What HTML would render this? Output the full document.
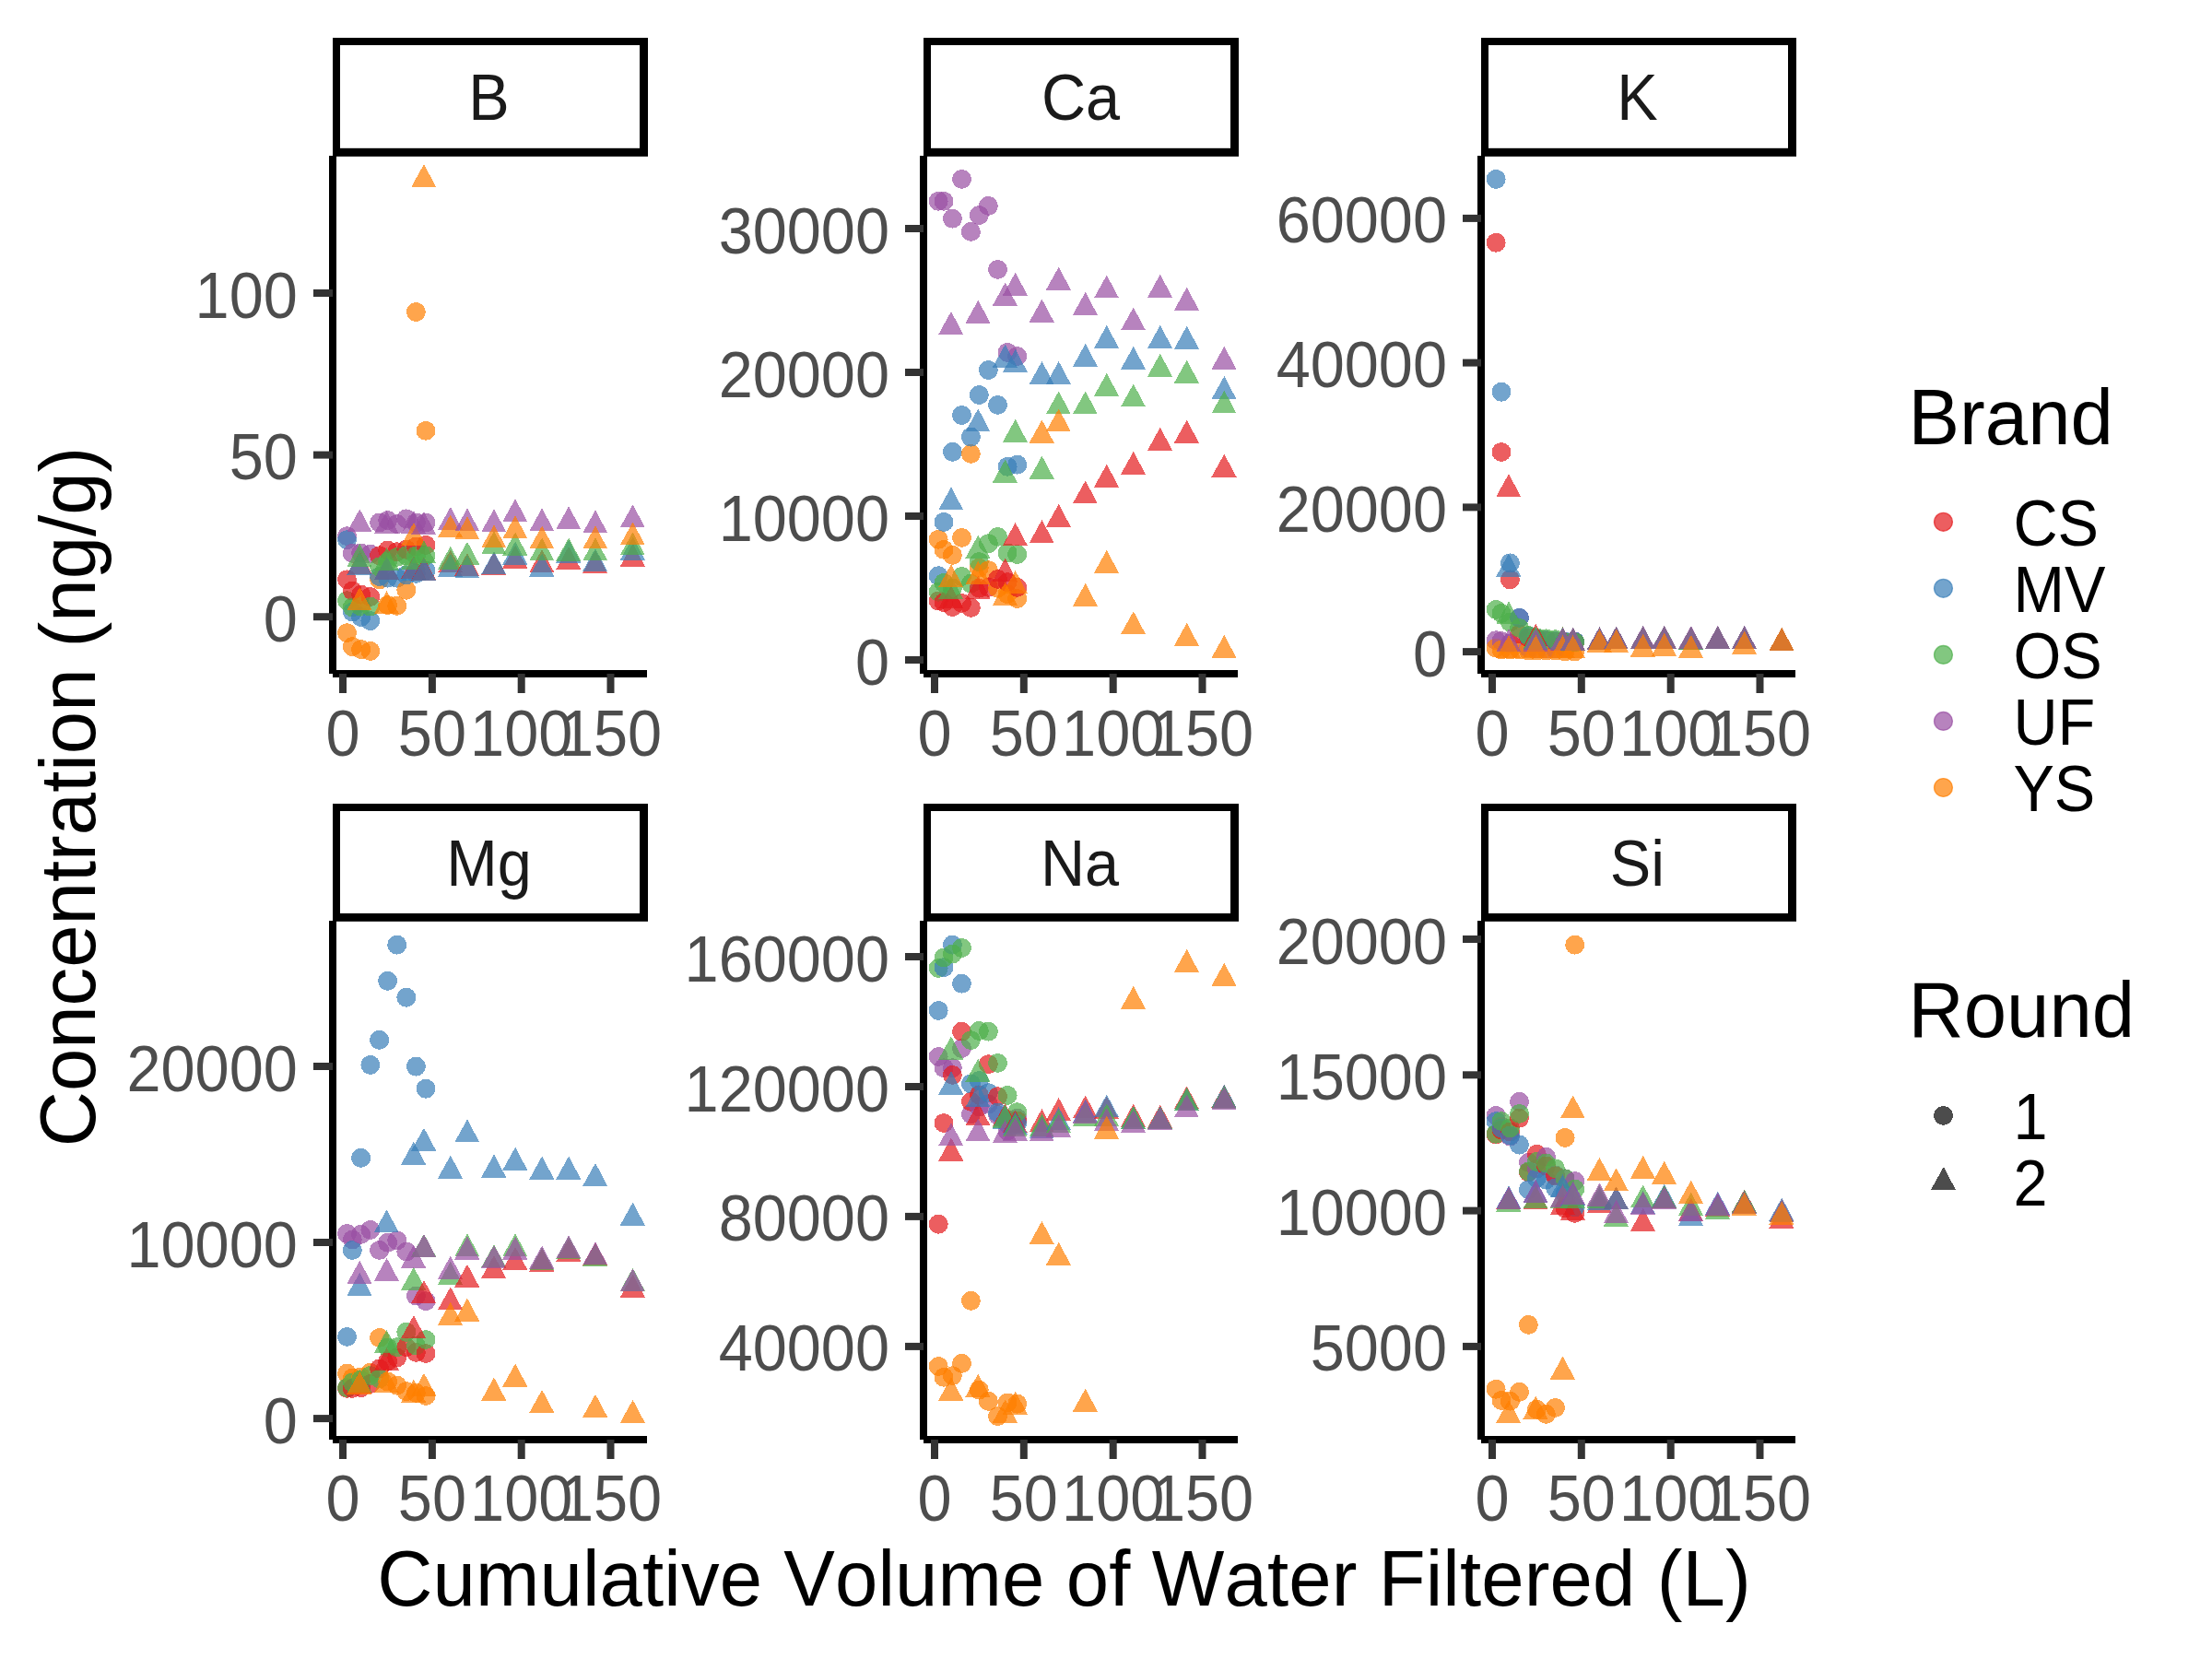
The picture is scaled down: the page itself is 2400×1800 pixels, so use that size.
<!DOCTYPE html><html><head><meta charset="utf-8"><title>Concentration vs cumulative volume</title><style>html,body{margin:0;padding:0;background:#fff}svg{display:block}text{font-family:"Liberation Sans",sans-serif;font-kerning:none}</style></head><body>
<svg width="2400" height="1800" viewBox="0 0 2400 1800">
<rect width="2400" height="1800" fill="#fff"/>
<!-- panel B -->
<g fill-opacity="0.7" shape-rendering="crispEdges">
<circle cx="376.5" cy="581.6" r="10.45" fill="#984EA3"/>
<circle cx="376.5" cy="686.6" r="10.45" fill="#FF7F00"/>
<circle cx="376.5" cy="628.8" r="10.45" fill="#E41A1C"/>
<circle cx="376.5" cy="585.7" r="10.45" fill="#377EB8"/>
<circle cx="376.5" cy="651.6" r="10.45" fill="#4DAF4A"/>
<circle cx="382.3" cy="600.3" r="10.45" fill="#984EA3"/>
<circle cx="382.3" cy="701.6" r="10.45" fill="#FF7F00"/>
<circle cx="382.3" cy="641" r="10.45" fill="#E41A1C"/>
<circle cx="382.3" cy="664" r="10.45" fill="#377EB8"/>
<circle cx="382.3" cy="658.9" r="10.45" fill="#4DAF4A"/>
<circle cx="391.7" cy="600" r="10.45" fill="#984EA3"/>
<circle cx="391.7" cy="704.6" r="10.45" fill="#FF7F00"/>
<circle cx="391.7" cy="645.1" r="10.45" fill="#E41A1C"/>
<circle cx="391.7" cy="669.5" r="10.45" fill="#377EB8"/>
<circle cx="391.7" cy="658.1" r="10.45" fill="#4DAF4A"/>
<circle cx="401.8" cy="601.1" r="10.45" fill="#984EA3"/>
<circle cx="401.8" cy="706.4" r="10.45" fill="#FF7F00"/>
<circle cx="401.8" cy="647.5" r="10.45" fill="#E41A1C"/>
<circle cx="401.8" cy="673.6" r="10.45" fill="#377EB8"/>
<circle cx="401.8" cy="658.1" r="10.45" fill="#4DAF4A"/>
<circle cx="411.7" cy="567" r="10.45" fill="#984EA3"/>
<circle cx="411.7" cy="628.8" r="10.45" fill="#FF7F00"/>
<circle cx="411.7" cy="602.8" r="10.45" fill="#E41A1C"/>
<circle cx="411.7" cy="625.5" r="10.45" fill="#377EB8"/>
<circle cx="411.7" cy="615" r="10.45" fill="#4DAF4A"/>
<circle cx="420.6" cy="564.5" r="10.45" fill="#984EA3"/>
<circle cx="420.6" cy="656.5" r="10.45" fill="#FF7F00"/>
<circle cx="420.6" cy="597.1" r="10.45" fill="#E41A1C"/>
<circle cx="420.6" cy="627.2" r="10.45" fill="#377EB8"/>
<circle cx="420.6" cy="609.3" r="10.45" fill="#4DAF4A"/>
<circle cx="430.7" cy="568.6" r="10.45" fill="#984EA3"/>
<circle cx="430.7" cy="657.3" r="10.45" fill="#FF7F00"/>
<circle cx="430.7" cy="598.7" r="10.45" fill="#E41A1C"/>
<circle cx="430.7" cy="627.2" r="10.45" fill="#377EB8"/>
<circle cx="430.7" cy="604.4" r="10.45" fill="#4DAF4A"/>
<circle cx="440.8" cy="562.9" r="10.45" fill="#984EA3"/>
<circle cx="440.8" cy="640.2" r="10.45" fill="#FF7F00"/>
<circle cx="440.8" cy="596.2" r="10.45" fill="#E41A1C"/>
<circle cx="440.8" cy="623.9" r="10.45" fill="#377EB8"/>
<circle cx="440.8" cy="602.8" r="10.45" fill="#4DAF4A"/>
<circle cx="451.4" cy="567" r="10.45" fill="#984EA3"/>
<circle cx="451.4" cy="338.5" r="10.45" fill="#FF7F00"/>
<circle cx="451.4" cy="593" r="10.45" fill="#E41A1C"/>
<circle cx="451.4" cy="622.3" r="10.45" fill="#377EB8"/>
<circle cx="451.4" cy="602.8" r="10.45" fill="#4DAF4A"/>
<circle cx="462" cy="567" r="10.45" fill="#984EA3"/>
<circle cx="462" cy="467.3" r="10.45" fill="#FF7F00"/>
<circle cx="462" cy="591.4" r="10.45" fill="#E41A1C"/>
<circle cx="462" cy="619" r="10.45" fill="#377EB8"/>
<circle cx="462" cy="602.8" r="10.45" fill="#4DAF4A"/>
<path d="M390.3 598.1L403.5 623L376.5 623Z" fill="#E41A1C"/>
<path d="M390.3 598.6L403.5 623.5L376.5 623.5Z" fill="#377EB8"/>
<path d="M390.3 589.8L403.5 614.8L376.5 614.8Z" fill="#4DAF4A"/>
<path d="M390.3 552.3L403.5 577.2L376.5 577.2Z" fill="#984EA3"/>
<path d="M390.3 637.2L403.5 662.1L376.5 662.1Z" fill="#FF7F00"/>
<path d="M419.6 603.8L432.8 628.8L405.8 628.8Z" fill="#E41A1C"/>
<path d="M419.6 603.8L432.8 628.8L405.8 628.8Z" fill="#377EB8"/>
<path d="M419.6 593.8L432.8 618.8L405.8 618.8Z" fill="#4DAF4A"/>
<path d="M419.6 554.2L432.8 579.1L405.8 579.1Z" fill="#984EA3"/>
<path d="M419.6 641L432.8 665.9L405.8 665.9Z" fill="#FF7F00"/>
<path d="M448.9 603.1L462.1 628L435.1 628Z" fill="#E41A1C"/>
<path d="M448.9 604.7L462.1 629.6L435.1 629.6Z" fill="#377EB8"/>
<path d="M448.9 593.1L462.1 618L435.1 618Z" fill="#4DAF4A"/>
<path d="M448.9 554.2L462.1 579.1L435.1 579.1Z" fill="#984EA3"/>
<path d="M448.9 567L462.1 591.9L435.1 591.9Z" fill="#FF7F00"/>
<path d="M460 604.6L473.2 629.5L446.2 629.5Z" fill="#E41A1C"/>
<path d="M460 605.5L473.2 630.4L446.2 630.4Z" fill="#377EB8"/>
<path d="M460 586.5L473.2 611.4L446.2 611.4Z" fill="#4DAF4A"/>
<path d="M460 555L473.2 579.9L446.2 579.9Z" fill="#984EA3"/>
<path d="M460 178.1L473.2 203.1L446.2 203.1Z" fill="#FF7F00"/>
<path d="M488.8 596.5L502 621.4L475 621.4Z" fill="#E41A1C"/>
<path d="M488.8 601.1L502 626L475 626Z" fill="#377EB8"/>
<path d="M488.8 592.7L502 617.6L475 617.6Z" fill="#4DAF4A"/>
<path d="M488.8 550.1L502 575L475 575Z" fill="#984EA3"/>
<path d="M488.8 558.3L502 583.2L475 583.2Z" fill="#FF7F00"/>
<path d="M507 599.8L520.2 624.8L493.2 624.8Z" fill="#E41A1C"/>
<path d="M507 602.2L520.2 627.1L493.2 627.1Z" fill="#377EB8"/>
<path d="M507 587.7L520.2 612.6L493.2 612.6Z" fill="#4DAF4A"/>
<path d="M507 551.4L520.2 576.3L493.2 576.3Z" fill="#984EA3"/>
<path d="M507 560.4L520.2 585.3L493.2 585.3Z" fill="#FF7F00"/>
<path d="M536 599L549.2 623.9L522.2 623.9Z" fill="#E41A1C"/>
<path d="M536 598.1L549.2 623L522.2 623Z" fill="#377EB8"/>
<path d="M536 576.2L549.2 601.1L522.2 601.1Z" fill="#4DAF4A"/>
<path d="M536 552.3L549.2 577.2L522.2 577.2Z" fill="#984EA3"/>
<path d="M536 569.3L549.2 594.2L522.2 594.2Z" fill="#FF7F00"/>
<path d="M559.1 591.6L572.3 616.5L545.3 616.5Z" fill="#E41A1C"/>
<path d="M559.1 587.6L572.3 612.5L545.3 612.5Z" fill="#377EB8"/>
<path d="M559.1 577.6L572.3 602.5L545.3 602.5Z" fill="#4DAF4A"/>
<path d="M559.1 541.2L572.3 566.1L545.3 566.1Z" fill="#984EA3"/>
<path d="M559.1 559.4L572.3 584.3L545.3 584.3Z" fill="#FF7F00"/>
<path d="M588.1 596L601.3 620.9L574.3 620.9Z" fill="#E41A1C"/>
<path d="M588.1 600.6L601.3 625.5L574.3 625.5Z" fill="#377EB8"/>
<path d="M588.1 583.5L601.3 608.4L574.3 608.4Z" fill="#4DAF4A"/>
<path d="M588.1 551.4L601.3 576.3L574.3 576.3Z" fill="#984EA3"/>
<path d="M588.1 570.5L601.3 595.4L574.3 595.4Z" fill="#FF7F00"/>
<path d="M617.1 592.8L630.3 617.8L603.3 617.8Z" fill="#E41A1C"/>
<path d="M617.1 585.6L630.3 610.5L603.3 610.5Z" fill="#377EB8"/>
<path d="M617.1 583.6L630.3 608.5L603.3 608.5Z" fill="#4DAF4A"/>
<path d="M617.1 549.3L630.3 574.2L603.3 574.2Z" fill="#984EA3"/>
<path d="M646 596.8L659.2 621.8L632.2 621.8Z" fill="#E41A1C"/>
<path d="M646 594.9L659.2 619.8L632.2 619.8Z" fill="#377EB8"/>
<path d="M646 583.5L659.2 608.4L632.2 608.4Z" fill="#4DAF4A"/>
<path d="M646 553.4L659.2 578.3L632.2 578.3Z" fill="#984EA3"/>
<path d="M646 570.5L659.2 595.4L632.2 595.4Z" fill="#FF7F00"/>
<path d="M686.6 589.7L699.8 614.6L672.8 614.6Z" fill="#E41A1C"/>
<path d="M686.6 582.7L699.8 607.6L672.8 607.6Z" fill="#377EB8"/>
<path d="M686.6 577.5L699.8 602.4L672.8 602.4Z" fill="#4DAF4A"/>
<path d="M686.6 547.4L699.8 572.3L672.8 572.3Z" fill="#984EA3"/>
<path d="M686.6 566.4L699.8 591.3L672.8 591.3Z" fill="#FF7F00"/>
</g>
<rect x="361" y="41" width="342" height="128.8" fill="#000"/>
<rect x="369" y="49" width="325" height="111.8" fill="#fff"/>
<text transform="translate(530.5,129.8) scale(1,1.045)" font-size="66.67" fill="#1A1A1A" text-anchor="middle">B</text>
<rect x="357" y="169" width="8" height="562" fill="#000"/>
<rect x="361" y="727" width="341" height="8" fill="#000"/>
<rect x="368" y="731" width="8" height="21" fill="#333"/>
<text transform="translate(372,820) scale(1,1.045)" font-size="66.67" fill="#4D4D4D" text-anchor="middle">0</text>
<rect x="464.9" y="731" width="8" height="21" fill="#333"/>
<text transform="translate(468.9,820) scale(1,1.045)" font-size="66.67" fill="#4D4D4D" text-anchor="middle">50</text>
<rect x="561.7" y="731" width="8" height="21" fill="#333"/>
<text transform="translate(565.7,820) scale(1,1.045)" font-size="66.67" fill="#4D4D4D" text-anchor="middle">100</text>
<rect x="658.5" y="731" width="8" height="21" fill="#333"/>
<text transform="translate(662.5,820) scale(1,1.045)" font-size="66.67" fill="#4D4D4D" text-anchor="middle">150</text>
<rect x="340" y="665.2" width="21" height="8" fill="#333"/>
<text transform="translate(322.8,695.7) scale(1,1.045)" font-size="66.67" fill="#4D4D4D" text-anchor="end">0</text>
<rect x="340" y="489.6" width="21" height="8" fill="#333"/>
<text transform="translate(322.8,520.1) scale(1,1.045)" font-size="66.67" fill="#4D4D4D" text-anchor="end">50</text>
<rect x="340" y="314" width="21" height="8" fill="#333"/>
<text transform="translate(322.8,344.5) scale(1,1.045)" font-size="66.67" fill="#4D4D4D" text-anchor="end">100</text>
<!-- panel Ca -->
<g fill-opacity="0.7" shape-rendering="crispEdges">
<circle cx="1018.2" cy="218.3" r="10.45" fill="#984EA3"/>
<circle cx="1018.2" cy="585.3" r="10.45" fill="#FF7F00"/>
<circle cx="1018.2" cy="652" r="10.45" fill="#E41A1C"/>
<circle cx="1018.2" cy="624.7" r="10.45" fill="#377EB8"/>
<circle cx="1018.2" cy="642.2" r="10.45" fill="#4DAF4A"/>
<circle cx="1024" cy="218.3" r="10.45" fill="#984EA3"/>
<circle cx="1024" cy="596.3" r="10.45" fill="#FF7F00"/>
<circle cx="1024" cy="653.6" r="10.45" fill="#E41A1C"/>
<circle cx="1024" cy="566.4" r="10.45" fill="#377EB8"/>
<circle cx="1024" cy="632.4" r="10.45" fill="#4DAF4A"/>
<circle cx="1033.4" cy="237.2" r="10.45" fill="#984EA3"/>
<circle cx="1033.4" cy="602.3" r="10.45" fill="#FF7F00"/>
<circle cx="1033.4" cy="658.5" r="10.45" fill="#E41A1C"/>
<circle cx="1033.4" cy="490.3" r="10.45" fill="#377EB8"/>
<circle cx="1033.4" cy="638.1" r="10.45" fill="#4DAF4A"/>
<circle cx="1043.5" cy="194.4" r="10.45" fill="#984EA3"/>
<circle cx="1043.5" cy="583.4" r="10.45" fill="#FF7F00"/>
<circle cx="1043.5" cy="654.4" r="10.45" fill="#E41A1C"/>
<circle cx="1043.5" cy="450.5" r="10.45" fill="#377EB8"/>
<circle cx="1043.5" cy="625.5" r="10.45" fill="#4DAF4A"/>
<circle cx="1053.4" cy="251.4" r="10.45" fill="#984EA3"/>
<circle cx="1053.4" cy="492.4" r="10.45" fill="#FF7F00"/>
<circle cx="1053.4" cy="659.3" r="10.45" fill="#E41A1C"/>
<circle cx="1053.4" cy="474.1" r="10.45" fill="#377EB8"/>
<circle cx="1053.4" cy="633.2" r="10.45" fill="#4DAF4A"/>
<circle cx="1062.3" cy="233.5" r="10.45" fill="#984EA3"/>
<circle cx="1062.3" cy="616.1" r="10.45" fill="#FF7F00"/>
<circle cx="1062.3" cy="638.1" r="10.45" fill="#E41A1C"/>
<circle cx="1062.3" cy="428.5" r="10.45" fill="#377EB8"/>
<circle cx="1062.3" cy="609.6" r="10.45" fill="#4DAF4A"/>
<circle cx="1072.4" cy="223.4" r="10.45" fill="#984EA3"/>
<circle cx="1072.4" cy="618.6" r="10.45" fill="#FF7F00"/>
<circle cx="1072.4" cy="637.3" r="10.45" fill="#E41A1C"/>
<circle cx="1072.4" cy="401.5" r="10.45" fill="#377EB8"/>
<circle cx="1072.4" cy="589.7" r="10.45" fill="#4DAF4A"/>
<circle cx="1082.5" cy="292.4" r="10.45" fill="#984EA3"/>
<circle cx="1082.5" cy="638.1" r="10.45" fill="#FF7F00"/>
<circle cx="1082.5" cy="628.4" r="10.45" fill="#E41A1C"/>
<circle cx="1082.5" cy="439.4" r="10.45" fill="#377EB8"/>
<circle cx="1082.5" cy="582.4" r="10.45" fill="#4DAF4A"/>
<circle cx="1093.1" cy="382.4" r="10.45" fill="#984EA3"/>
<circle cx="1093.1" cy="644.6" r="10.45" fill="#FF7F00"/>
<circle cx="1093.1" cy="631.6" r="10.45" fill="#E41A1C"/>
<circle cx="1093.1" cy="506.3" r="10.45" fill="#377EB8"/>
<circle cx="1093.1" cy="599.9" r="10.45" fill="#4DAF4A"/>
<circle cx="1103.7" cy="386.5" r="10.45" fill="#984EA3"/>
<circle cx="1103.7" cy="649.5" r="10.45" fill="#FF7F00"/>
<circle cx="1103.7" cy="637.3" r="10.45" fill="#E41A1C"/>
<circle cx="1103.7" cy="504.2" r="10.45" fill="#377EB8"/>
<circle cx="1103.7" cy="601.5" r="10.45" fill="#4DAF4A"/>
<path d="M1032 635.1L1045.2 660L1018.2 660Z" fill="#E41A1C"/>
<path d="M1032 528.5L1045.2 553.4L1018.2 553.4Z" fill="#377EB8"/>
<path d="M1032 625L1045.2 649.9L1018.2 649.9Z" fill="#4DAF4A"/>
<path d="M1032 337.9L1045.2 362.9L1018.2 362.9Z" fill="#984EA3"/>
<path d="M1032 612.1L1045.2 637L1018.2 637Z" fill="#FF7F00"/>
<path d="M1061.3 624.6L1074.5 649.5L1047.5 649.5Z" fill="#E41A1C"/>
<path d="M1061.3 443.4L1074.5 468.4L1047.5 468.4Z" fill="#377EB8"/>
<path d="M1061.3 580.6L1074.5 605.5L1047.5 605.5Z" fill="#4DAF4A"/>
<path d="M1061.3 325.7L1074.5 350.7L1047.5 350.7Z" fill="#984EA3"/>
<path d="M1061.3 609L1074.5 633.9L1047.5 633.9Z" fill="#FF7F00"/>
<path d="M1090.6 605.7L1103.8 630.6L1076.8 630.6Z" fill="#E41A1C"/>
<path d="M1090.6 373.7L1103.8 398.7L1076.8 398.7Z" fill="#377EB8"/>
<path d="M1090.6 498.7L1103.8 523.6L1076.8 523.6Z" fill="#4DAF4A"/>
<path d="M1090.6 306.7L1103.8 331.7L1076.8 331.7Z" fill="#984EA3"/>
<path d="M1090.6 631.8L1103.8 656.8L1076.8 656.8Z" fill="#FF7F00"/>
<path d="M1101.7 567.1L1114.9 592L1087.9 592Z" fill="#E41A1C"/>
<path d="M1101.7 378.9L1114.9 403.9L1087.9 403.9Z" fill="#377EB8"/>
<path d="M1101.7 454.8L1114.9 479.8L1087.9 479.8Z" fill="#4DAF4A"/>
<path d="M1101.7 295.6L1114.9 320.6L1087.9 320.6Z" fill="#984EA3"/>
<path d="M1101.7 619.1L1114.9 644L1087.9 644Z" fill="#FF7F00"/>
<path d="M1130.5 564.1L1143.7 589L1116.7 589Z" fill="#E41A1C"/>
<path d="M1130.5 392L1143.7 416.9L1116.7 416.9Z" fill="#377EB8"/>
<path d="M1130.5 494.7L1143.7 519.6L1116.7 519.6Z" fill="#4DAF4A"/>
<path d="M1130.5 324.6L1143.7 349.6L1116.7 349.6Z" fill="#984EA3"/>
<path d="M1130.5 455.6L1143.7 480.6L1116.7 480.6Z" fill="#FF7F00"/>
<path d="M1148.7 546.8L1161.9 571.8L1134.9 571.8Z" fill="#E41A1C"/>
<path d="M1148.7 392L1161.9 416.9L1134.9 416.9Z" fill="#377EB8"/>
<path d="M1148.7 424.4L1161.9 449.4L1134.9 449.4Z" fill="#4DAF4A"/>
<path d="M1148.7 289.6L1161.9 314.6L1134.9 314.6Z" fill="#984EA3"/>
<path d="M1148.7 443.4L1161.9 468.4L1134.9 468.4Z" fill="#FF7F00"/>
<path d="M1177.7 521.5L1190.9 546.4L1163.9 546.4Z" fill="#E41A1C"/>
<path d="M1177.7 372.9L1190.9 397.9L1163.9 397.9Z" fill="#377EB8"/>
<path d="M1177.7 424.4L1190.9 449.4L1163.9 449.4Z" fill="#4DAF4A"/>
<path d="M1177.7 316.8L1190.9 341.8L1163.9 341.8Z" fill="#984EA3"/>
<path d="M1177.7 632.9L1190.9 657.8L1163.9 657.8Z" fill="#FF7F00"/>
<path d="M1200.8 503.6L1214 528.5L1187 528.5Z" fill="#E41A1C"/>
<path d="M1200.8 352.9L1214 377.9L1187 377.9Z" fill="#377EB8"/>
<path d="M1200.8 404.8L1214 429.8L1187 429.8Z" fill="#4DAF4A"/>
<path d="M1200.8 298.5L1214 323.4L1187 323.4Z" fill="#984EA3"/>
<path d="M1200.8 596.8L1214 621.8L1187 621.8Z" fill="#FF7F00"/>
<path d="M1229.8 489.8L1243 514.8L1216 514.8Z" fill="#E41A1C"/>
<path d="M1229.8 375.8L1243 400.8L1216 400.8Z" fill="#377EB8"/>
<path d="M1229.8 416.5L1243 441.4L1216 441.4Z" fill="#4DAF4A"/>
<path d="M1229.8 333.5L1243 358.4L1216 358.4Z" fill="#984EA3"/>
<path d="M1229.8 663.2L1243 688.1L1216 688.1Z" fill="#FF7F00"/>
<path d="M1258.8 463.7L1272 488.7L1245 488.7Z" fill="#E41A1C"/>
<path d="M1258.8 352.9L1272 377.9L1245 377.9Z" fill="#377EB8"/>
<path d="M1258.8 383.6L1272 408.6L1245 408.6Z" fill="#4DAF4A"/>
<path d="M1258.8 297.7L1272 322.7L1245 322.7Z" fill="#984EA3"/>
<path d="M1287.7 455.6L1300.9 480.6L1273.9 480.6Z" fill="#E41A1C"/>
<path d="M1287.7 353.7L1300.9 378.7L1273.9 378.7Z" fill="#377EB8"/>
<path d="M1287.7 390.6L1300.9 415.6L1273.9 415.6Z" fill="#4DAF4A"/>
<path d="M1287.7 311.7L1300.9 336.7L1273.9 336.7Z" fill="#984EA3"/>
<path d="M1287.7 675.9L1300.9 700.8L1273.9 700.8Z" fill="#FF7F00"/>
<path d="M1328.3 492.6L1341.5 517.5L1314.5 517.5Z" fill="#E41A1C"/>
<path d="M1328.3 408.1L1341.5 433.1L1314.5 433.1Z" fill="#377EB8"/>
<path d="M1328.3 423.5L1341.5 448.4L1314.5 448.4Z" fill="#4DAF4A"/>
<path d="M1328.3 375.7L1341.5 400.7L1314.5 400.7Z" fill="#984EA3"/>
<path d="M1328.3 689L1341.5 713.9L1314.5 713.9Z" fill="#FF7F00"/>
</g>
<rect x="1002" y="41" width="342" height="128.8" fill="#000"/>
<rect x="1010" y="49" width="325" height="111.8" fill="#fff"/>
<text transform="translate(1172.5,129.8) scale(1,1.045)" font-size="66.67" fill="#1A1A1A" text-anchor="middle">Ca</text>
<rect x="998" y="169" width="8" height="562" fill="#000"/>
<rect x="1002" y="727" width="341" height="8" fill="#000"/>
<rect x="1010" y="731" width="8" height="21" fill="#333"/>
<text transform="translate(1014,820) scale(1,1.045)" font-size="66.67" fill="#4D4D4D" text-anchor="middle">0</text>
<rect x="1106.8" y="731" width="8" height="21" fill="#333"/>
<text transform="translate(1110.8,820) scale(1,1.045)" font-size="66.67" fill="#4D4D4D" text-anchor="middle">50</text>
<rect x="1203.7" y="731" width="8" height="21" fill="#333"/>
<text transform="translate(1207.7,820) scale(1,1.045)" font-size="66.67" fill="#4D4D4D" text-anchor="middle">100</text>
<rect x="1300.5" y="731" width="8" height="21" fill="#333"/>
<text transform="translate(1304.5,820) scale(1,1.045)" font-size="66.67" fill="#4D4D4D" text-anchor="middle">150</text>
<rect x="982" y="712" width="20" height="8" fill="#333"/>
<text transform="translate(965,742.5) scale(1,1.045)" font-size="66.67" fill="#4D4D4D" text-anchor="end">0</text>
<rect x="982" y="556" width="20" height="8" fill="#333"/>
<text transform="translate(965,586.5) scale(1,1.045)" font-size="66.67" fill="#4D4D4D" text-anchor="end">10000</text>
<rect x="982" y="400" width="20" height="8" fill="#333"/>
<text transform="translate(965,430.5) scale(1,1.045)" font-size="66.67" fill="#4D4D4D" text-anchor="end">20000</text>
<rect x="982" y="244" width="20" height="8" fill="#333"/>
<text transform="translate(965,274.5) scale(1,1.045)" font-size="66.67" fill="#4D4D4D" text-anchor="end">30000</text>
<!-- panel K -->
<g fill-opacity="0.7" shape-rendering="crispEdges">
<circle cx="1623.2" cy="694.7" r="10.45" fill="#984EA3"/>
<circle cx="1623.2" cy="703" r="10.45" fill="#FF7F00"/>
<circle cx="1623.2" cy="263.3" r="10.45" fill="#E41A1C"/>
<circle cx="1623.2" cy="194.4" r="10.45" fill="#377EB8"/>
<circle cx="1623.2" cy="661.4" r="10.45" fill="#4DAF4A"/>
<circle cx="1629" cy="695.5" r="10.45" fill="#984EA3"/>
<circle cx="1629" cy="705" r="10.45" fill="#FF7F00"/>
<circle cx="1629" cy="490.5" r="10.45" fill="#E41A1C"/>
<circle cx="1629" cy="425.2" r="10.45" fill="#377EB8"/>
<circle cx="1629" cy="665.4" r="10.45" fill="#4DAF4A"/>
<circle cx="1638.4" cy="698" r="10.45" fill="#984EA3"/>
<circle cx="1638.4" cy="705" r="10.45" fill="#FF7F00"/>
<circle cx="1638.4" cy="628.8" r="10.45" fill="#E41A1C"/>
<circle cx="1638.4" cy="610.9" r="10.45" fill="#377EB8"/>
<circle cx="1638.4" cy="675" r="10.45" fill="#4DAF4A"/>
<circle cx="1648.5" cy="670.4" r="10.45" fill="#984EA3"/>
<circle cx="1648.5" cy="705" r="10.45" fill="#FF7F00"/>
<circle cx="1648.5" cy="688" r="10.45" fill="#E41A1C"/>
<circle cx="1648.5" cy="670.3" r="10.45" fill="#377EB8"/>
<circle cx="1648.5" cy="681.4" r="10.45" fill="#4DAF4A"/>
<circle cx="1658.4" cy="703" r="10.45" fill="#984EA3"/>
<circle cx="1658.4" cy="706" r="10.45" fill="#FF7F00"/>
<circle cx="1658.4" cy="692" r="10.45" fill="#E41A1C"/>
<circle cx="1658.4" cy="690" r="10.45" fill="#377EB8"/>
<circle cx="1658.4" cy="689.5" r="10.45" fill="#4DAF4A"/>
<circle cx="1667.3" cy="704" r="10.45" fill="#984EA3"/>
<circle cx="1667.3" cy="706" r="10.45" fill="#FF7F00"/>
<circle cx="1667.3" cy="694" r="10.45" fill="#E41A1C"/>
<circle cx="1667.3" cy="693" r="10.45" fill="#377EB8"/>
<circle cx="1667.3" cy="692" r="10.45" fill="#4DAF4A"/>
<circle cx="1677.4" cy="704" r="10.45" fill="#984EA3"/>
<circle cx="1677.4" cy="706" r="10.45" fill="#FF7F00"/>
<circle cx="1677.4" cy="695" r="10.45" fill="#E41A1C"/>
<circle cx="1677.4" cy="694.5" r="10.45" fill="#377EB8"/>
<circle cx="1677.4" cy="692.8" r="10.45" fill="#4DAF4A"/>
<circle cx="1687.5" cy="704" r="10.45" fill="#984EA3"/>
<circle cx="1687.5" cy="706" r="10.45" fill="#FF7F00"/>
<circle cx="1687.5" cy="696" r="10.45" fill="#E41A1C"/>
<circle cx="1687.5" cy="695.5" r="10.45" fill="#377EB8"/>
<circle cx="1687.5" cy="693.6" r="10.45" fill="#4DAF4A"/>
<circle cx="1698.1" cy="703" r="10.45" fill="#984EA3"/>
<circle cx="1698.1" cy="707" r="10.45" fill="#FF7F00"/>
<circle cx="1698.1" cy="696.5" r="10.45" fill="#E41A1C"/>
<circle cx="1698.1" cy="696" r="10.45" fill="#377EB8"/>
<circle cx="1698.1" cy="696.8" r="10.45" fill="#4DAF4A"/>
<circle cx="1708.7" cy="696" r="10.45" fill="#984EA3"/>
<circle cx="1708.7" cy="707" r="10.45" fill="#FF7F00"/>
<circle cx="1708.7" cy="696.5" r="10.45" fill="#E41A1C"/>
<circle cx="1708.7" cy="696" r="10.45" fill="#377EB8"/>
<circle cx="1708.7" cy="696.8" r="10.45" fill="#4DAF4A"/>
<path d="M1637 514.2L1650.2 539.1L1623.2 539.1Z" fill="#E41A1C"/>
<path d="M1637 600.6L1650.2 625.5L1623.2 625.5Z" fill="#377EB8"/>
<path d="M1637 652.4L1650.2 677.3L1623.2 677.3Z" fill="#4DAF4A"/>
<path d="M1637 682.2L1650.2 707.1L1623.2 707.1Z" fill="#984EA3"/>
<path d="M1637 689.1L1650.2 714L1623.2 714Z" fill="#FF7F00"/>
<path d="M1666.3 676.5L1679.5 701.4L1652.5 701.4Z" fill="#E41A1C"/>
<path d="M1666.3 680.1L1679.5 705L1652.5 705Z" fill="#377EB8"/>
<path d="M1666.3 679.4L1679.5 704.3L1652.5 704.3Z" fill="#4DAF4A"/>
<path d="M1666.3 682.2L1679.5 707.1L1652.5 707.1Z" fill="#984EA3"/>
<path d="M1666.3 689.1L1679.5 714L1652.5 714Z" fill="#FF7F00"/>
<path d="M1695.6 680.1L1708.8 705L1681.8 705Z" fill="#E41A1C"/>
<path d="M1695.6 680.4L1708.8 705.3L1681.8 705.3Z" fill="#377EB8"/>
<path d="M1695.6 680.1L1708.8 705L1681.8 705Z" fill="#4DAF4A"/>
<path d="M1695.6 680.6L1708.8 705.5L1681.8 705.5Z" fill="#984EA3"/>
<path d="M1695.6 689.1L1708.8 714L1681.8 714Z" fill="#FF7F00"/>
<path d="M1706.7 680.6L1719.9 705.5L1692.9 705.5Z" fill="#E41A1C"/>
<path d="M1706.7 680.6L1719.9 705.5L1692.9 705.5Z" fill="#377EB8"/>
<path d="M1706.7 680.6L1719.9 705.5L1692.9 705.5Z" fill="#4DAF4A"/>
<path d="M1706.7 680.6L1719.9 705.5L1692.9 705.5Z" fill="#984EA3"/>
<path d="M1706.7 689.1L1719.9 714L1692.9 714Z" fill="#FF7F00"/>
<path d="M1735.5 680L1748.7 704.9L1721.7 704.9Z" fill="#E41A1C"/>
<path d="M1735.5 680L1748.7 704.9L1721.7 704.9Z" fill="#377EB8"/>
<path d="M1735.5 680L1748.7 704.9L1721.7 704.9Z" fill="#4DAF4A"/>
<path d="M1735.5 680L1748.7 704.9L1721.7 704.9Z" fill="#984EA3"/>
<path d="M1735.5 682.9L1748.7 707.8L1721.7 707.8Z" fill="#FF7F00"/>
<path d="M1753.7 679.4L1766.9 704.3L1739.9 704.3Z" fill="#E41A1C"/>
<path d="M1753.7 679.4L1766.9 704.3L1739.9 704.3Z" fill="#377EB8"/>
<path d="M1753.7 679.4L1766.9 704.3L1739.9 704.3Z" fill="#4DAF4A"/>
<path d="M1753.7 679.4L1766.9 704.3L1739.9 704.3Z" fill="#984EA3"/>
<path d="M1753.7 682.9L1766.9 707.8L1739.9 707.8Z" fill="#FF7F00"/>
<path d="M1782.7 679.1L1795.9 704L1768.9 704Z" fill="#E41A1C"/>
<path d="M1782.7 679.1L1795.9 704L1768.9 704Z" fill="#377EB8"/>
<path d="M1782.7 679.1L1795.9 704L1768.9 704Z" fill="#4DAF4A"/>
<path d="M1782.7 678.8L1795.9 703.8L1768.9 703.8Z" fill="#984EA3"/>
<path d="M1782.7 687.7L1795.9 712.6L1768.9 712.6Z" fill="#FF7F00"/>
<path d="M1805.8 679.3L1819 704.2L1792 704.2Z" fill="#E41A1C"/>
<path d="M1805.8 679.3L1819 704.2L1792 704.2Z" fill="#377EB8"/>
<path d="M1805.8 678.6L1819 703.5L1792 703.5Z" fill="#4DAF4A"/>
<path d="M1805.8 678.8L1819 703.8L1792 703.8Z" fill="#984EA3"/>
<path d="M1805.8 686.9L1819 711.8L1792 711.8Z" fill="#FF7F00"/>
<path d="M1834.8 679.6L1848 704.5L1821 704.5Z" fill="#E41A1C"/>
<path d="M1834.8 679.6L1848 704.5L1821 704.5Z" fill="#377EB8"/>
<path d="M1834.8 679.6L1848 704.5L1821 704.5Z" fill="#4DAF4A"/>
<path d="M1834.8 679L1848 703.9L1821 703.9Z" fill="#984EA3"/>
<path d="M1834.8 689L1848 713.9L1821 713.9Z" fill="#FF7F00"/>
<path d="M1863.8 679.1L1877 704L1850 704Z" fill="#E41A1C"/>
<path d="M1863.8 679.1L1877 704L1850 704Z" fill="#377EB8"/>
<path d="M1863.8 679.1L1877 704L1850 704Z" fill="#4DAF4A"/>
<path d="M1863.8 678.8L1877 703.8L1850 703.8Z" fill="#984EA3"/>
<path d="M1892.7 679.1L1905.9 704L1878.9 704Z" fill="#E41A1C"/>
<path d="M1892.7 678.8L1905.9 703.8L1878.9 703.8Z" fill="#377EB8"/>
<path d="M1892.7 679.1L1905.9 704L1878.9 704Z" fill="#4DAF4A"/>
<path d="M1892.7 678.8L1905.9 703.8L1878.9 703.8Z" fill="#984EA3"/>
<path d="M1892.7 684.9L1905.9 709.8L1878.9 709.8Z" fill="#FF7F00"/>
<path d="M1933.3 680.9L1946.5 705.8L1919.5 705.8Z" fill="#E41A1C"/>
<path d="M1933.3 680.9L1946.5 705.8L1919.5 705.8Z" fill="#377EB8"/>
<path d="M1933.3 680.9L1946.5 705.8L1919.5 705.8Z" fill="#4DAF4A"/>
<path d="M1933.3 680.8L1946.5 705.8L1919.5 705.8Z" fill="#984EA3"/>
<path d="M1933.3 680.8L1946.5 705.8L1919.5 705.8Z" fill="#FF7F00"/>
</g>
<rect x="1607" y="41" width="342" height="128.8" fill="#000"/>
<rect x="1615" y="49" width="325" height="111.8" fill="#fff"/>
<text transform="translate(1776.5,129.8) scale(1,1.045)" font-size="66.67" fill="#1A1A1A" text-anchor="middle">K</text>
<rect x="1603" y="169" width="8" height="562" fill="#000"/>
<rect x="1607" y="727" width="341" height="8" fill="#000"/>
<rect x="1615" y="731" width="8" height="21" fill="#333"/>
<text transform="translate(1619,820) scale(1,1.045)" font-size="66.67" fill="#4D4D4D" text-anchor="middle">0</text>
<rect x="1711.8" y="731" width="8" height="21" fill="#333"/>
<text transform="translate(1715.8,820) scale(1,1.045)" font-size="66.67" fill="#4D4D4D" text-anchor="middle">50</text>
<rect x="1808.7" y="731" width="8" height="21" fill="#333"/>
<text transform="translate(1812.7,820) scale(1,1.045)" font-size="66.67" fill="#4D4D4D" text-anchor="middle">100</text>
<rect x="1905.5" y="731" width="8" height="21" fill="#333"/>
<text transform="translate(1909.5,820) scale(1,1.045)" font-size="66.67" fill="#4D4D4D" text-anchor="middle">150</text>
<rect x="1587" y="703.1" width="20" height="8" fill="#333"/>
<text transform="translate(1570,733.6) scale(1,1.045)" font-size="66.67" fill="#4D4D4D" text-anchor="end">0</text>
<rect x="1587" y="546.4" width="20" height="8" fill="#333"/>
<text transform="translate(1570,576.9) scale(1,1.045)" font-size="66.67" fill="#4D4D4D" text-anchor="end">20000</text>
<rect x="1587" y="389.6" width="20" height="8" fill="#333"/>
<text transform="translate(1570,420.1) scale(1,1.045)" font-size="66.67" fill="#4D4D4D" text-anchor="end">40000</text>
<rect x="1587" y="232.9" width="20" height="8" fill="#333"/>
<text transform="translate(1570,263.4) scale(1,1.045)" font-size="66.67" fill="#4D4D4D" text-anchor="end">60000</text>
<!-- panel Mg -->
<g fill-opacity="0.7" shape-rendering="crispEdges">
<circle cx="376.5" cy="1338.5" r="10.45" fill="#984EA3"/>
<circle cx="376.5" cy="1490.1" r="10.45" fill="#FF7F00"/>
<circle cx="376.5" cy="1506.4" r="10.45" fill="#E41A1C"/>
<circle cx="376.5" cy="1450.4" r="10.45" fill="#377EB8"/>
<circle cx="376.5" cy="1505.6" r="10.45" fill="#4DAF4A"/>
<circle cx="382.3" cy="1345" r="10.45" fill="#984EA3"/>
<circle cx="382.3" cy="1495" r="10.45" fill="#FF7F00"/>
<circle cx="382.3" cy="1506.4" r="10.45" fill="#E41A1C"/>
<circle cx="382.3" cy="1356.4" r="10.45" fill="#377EB8"/>
<circle cx="382.3" cy="1499.9" r="10.45" fill="#4DAF4A"/>
<circle cx="391.7" cy="1339.3" r="10.45" fill="#984EA3"/>
<circle cx="391.7" cy="1494" r="10.45" fill="#FF7F00"/>
<circle cx="391.7" cy="1505.6" r="10.45" fill="#E41A1C"/>
<circle cx="391.7" cy="1256.3" r="10.45" fill="#377EB8"/>
<circle cx="391.7" cy="1497" r="10.45" fill="#4DAF4A"/>
<circle cx="401.8" cy="1334.4" r="10.45" fill="#984EA3"/>
<circle cx="401.8" cy="1489.3" r="10.45" fill="#FF7F00"/>
<circle cx="401.8" cy="1501.5" r="10.45" fill="#E41A1C"/>
<circle cx="401.8" cy="1155.4" r="10.45" fill="#377EB8"/>
<circle cx="401.8" cy="1492.5" r="10.45" fill="#4DAF4A"/>
<circle cx="411.7" cy="1356.4" r="10.45" fill="#984EA3"/>
<circle cx="411.7" cy="1451.4" r="10.45" fill="#FF7F00"/>
<circle cx="411.7" cy="1485" r="10.45" fill="#E41A1C"/>
<circle cx="411.7" cy="1128.3" r="10.45" fill="#377EB8"/>
<circle cx="411.7" cy="1495.8" r="10.45" fill="#4DAF4A"/>
<circle cx="420.6" cy="1348.2" r="10.45" fill="#984EA3"/>
<circle cx="420.6" cy="1499" r="10.45" fill="#FF7F00"/>
<circle cx="420.6" cy="1477.1" r="10.45" fill="#E41A1C"/>
<circle cx="420.6" cy="1064.3" r="10.45" fill="#377EB8"/>
<circle cx="420.6" cy="1462" r="10.45" fill="#4DAF4A"/>
<circle cx="430.7" cy="1345.8" r="10.45" fill="#984EA3"/>
<circle cx="430.7" cy="1503.1" r="10.45" fill="#FF7F00"/>
<circle cx="430.7" cy="1473" r="10.45" fill="#E41A1C"/>
<circle cx="430.7" cy="1025.2" r="10.45" fill="#377EB8"/>
<circle cx="430.7" cy="1461.6" r="10.45" fill="#4DAF4A"/>
<circle cx="440.8" cy="1358" r="10.45" fill="#984EA3"/>
<circle cx="440.8" cy="1509.6" r="10.45" fill="#FF7F00"/>
<circle cx="440.8" cy="1461.6" r="10.45" fill="#E41A1C"/>
<circle cx="440.8" cy="1082.2" r="10.45" fill="#377EB8"/>
<circle cx="440.8" cy="1445.3" r="10.45" fill="#4DAF4A"/>
<circle cx="451.4" cy="1406" r="10.45" fill="#984EA3"/>
<circle cx="451.4" cy="1511.3" r="10.45" fill="#FF7F00"/>
<circle cx="451.4" cy="1467.3" r="10.45" fill="#E41A1C"/>
<circle cx="451.4" cy="1157.1" r="10.45" fill="#377EB8"/>
<circle cx="451.4" cy="1460" r="10.45" fill="#4DAF4A"/>
<circle cx="462" cy="1411.7" r="10.45" fill="#984EA3"/>
<circle cx="462" cy="1514.5" r="10.45" fill="#FF7F00"/>
<circle cx="462" cy="1468.5" r="10.45" fill="#E41A1C"/>
<circle cx="462" cy="1181.2" r="10.45" fill="#377EB8"/>
<circle cx="462" cy="1453.5" r="10.45" fill="#4DAF4A"/>
<path d="M390.3 1487.4L403.5 1512.3L376.5 1512.3Z" fill="#E41A1C"/>
<path d="M390.3 1380.7L403.5 1405.6L376.5 1405.6Z" fill="#377EB8"/>
<path d="M390.3 1486.1L403.5 1511L376.5 1511Z" fill="#4DAF4A"/>
<path d="M390.3 1367.7L403.5 1392.6L376.5 1392.6Z" fill="#984EA3"/>
<path d="M390.3 1487.6L403.5 1512.5L376.5 1512.5Z" fill="#FF7F00"/>
<path d="M419.6 1461.9L432.8 1486.8L405.8 1486.8Z" fill="#E41A1C"/>
<path d="M419.6 1312.4L432.8 1337.3L405.8 1337.3Z" fill="#377EB8"/>
<path d="M419.6 1442.9L432.8 1467.8L405.8 1467.8Z" fill="#4DAF4A"/>
<path d="M419.6 1364.8L432.8 1389.8L405.8 1389.8Z" fill="#984EA3"/>
<path d="M419.6 1486L432.8 1511L405.8 1511Z" fill="#FF7F00"/>
<path d="M448.9 1427.1L462.1 1452L435.1 1452Z" fill="#E41A1C"/>
<path d="M448.9 1238.6L462.1 1263.5L435.1 1263.5Z" fill="#377EB8"/>
<path d="M448.9 1374.7L462.1 1399.6L435.1 1399.6Z" fill="#4DAF4A"/>
<path d="M448.9 1350.6L462.1 1375.5L435.1 1375.5Z" fill="#984EA3"/>
<path d="M448.9 1496.6L462.1 1521.5L435.1 1521.5Z" fill="#FF7F00"/>
<path d="M460 1388.8L473.2 1413.8L446.2 1413.8Z" fill="#E41A1C"/>
<path d="M460 1223.7L473.2 1248.6L446.2 1248.6Z" fill="#377EB8"/>
<path d="M460 1338.7L473.2 1363.6L446.2 1363.6Z" fill="#4DAF4A"/>
<path d="M460 1338.8L473.2 1363.8L446.2 1363.8Z" fill="#984EA3"/>
<path d="M460 1489.7L473.2 1514.6L446.2 1514.6Z" fill="#FF7F00"/>
<path d="M488.8 1396.2L502 1421.1L475 1421.1Z" fill="#E41A1C"/>
<path d="M488.8 1253.6L502 1278.5L475 1278.5Z" fill="#377EB8"/>
<path d="M488.8 1368.9L502 1393.8L475 1393.8Z" fill="#4DAF4A"/>
<path d="M488.8 1362.7L502 1387.6L475 1387.6Z" fill="#984EA3"/>
<path d="M488.8 1412.7L502 1437.6L475 1437.6Z" fill="#FF7F00"/>
<path d="M507 1371.7L520.2 1396.6L493.2 1396.6Z" fill="#E41A1C"/>
<path d="M507 1214.4L520.2 1239.3L493.2 1239.3Z" fill="#377EB8"/>
<path d="M507 1338.2L520.2 1363.1L493.2 1363.1Z" fill="#4DAF4A"/>
<path d="M507 1341.5L520.2 1366.5L493.2 1366.5Z" fill="#984EA3"/>
<path d="M507 1408.6L520.2 1433.5L493.2 1433.5Z" fill="#FF7F00"/>
<path d="M536 1361.9L549.2 1386.8L522.2 1386.8Z" fill="#E41A1C"/>
<path d="M536 1252.5L549.2 1277.5L522.2 1277.5Z" fill="#377EB8"/>
<path d="M536 1350.1L549.2 1375L522.2 1375Z" fill="#4DAF4A"/>
<path d="M536 1350.8L549.2 1375.8L522.2 1375.8Z" fill="#984EA3"/>
<path d="M536 1494.6L549.2 1519.5L522.2 1519.5Z" fill="#FF7F00"/>
<path d="M559.1 1352.9L572.3 1377.8L545.3 1377.8Z" fill="#E41A1C"/>
<path d="M559.1 1244.7L572.3 1269.6L545.3 1269.6Z" fill="#377EB8"/>
<path d="M559.1 1338.2L572.3 1363.1L545.3 1363.1Z" fill="#4DAF4A"/>
<path d="M559.1 1341.7L572.3 1366.6L545.3 1366.6Z" fill="#984EA3"/>
<path d="M559.1 1479.6L572.3 1504.5L545.3 1504.5Z" fill="#FF7F00"/>
<path d="M588.1 1354.7L601.3 1379.6L574.3 1379.6Z" fill="#E41A1C"/>
<path d="M588.1 1254.6L601.3 1279.5L574.3 1279.5Z" fill="#377EB8"/>
<path d="M588.1 1353.4L601.3 1378.3L574.3 1378.3Z" fill="#4DAF4A"/>
<path d="M588.1 1351.5L601.3 1376.5L574.3 1376.5Z" fill="#984EA3"/>
<path d="M588.1 1507.9L601.3 1532.8L574.3 1532.8Z" fill="#FF7F00"/>
<path d="M617.1 1343.9L630.3 1368.8L603.3 1368.8Z" fill="#E41A1C"/>
<path d="M617.1 1254.6L630.3 1279.5L603.3 1279.5Z" fill="#377EB8"/>
<path d="M617.1 1340.9L630.3 1365.8L603.3 1365.8Z" fill="#4DAF4A"/>
<path d="M617.1 1340.4L630.3 1365.3L603.3 1365.3Z" fill="#984EA3"/>
<path d="M646 1348.1L659.2 1373L632.2 1373Z" fill="#E41A1C"/>
<path d="M646 1261.8L659.2 1286.8L632.2 1286.8Z" fill="#377EB8"/>
<path d="M646 1348.8L659.2 1373.8L632.2 1373.8Z" fill="#4DAF4A"/>
<path d="M646 1347.4L659.2 1372.3L632.2 1372.3Z" fill="#984EA3"/>
<path d="M646 1512.7L659.2 1537.6L632.2 1537.6Z" fill="#FF7F00"/>
<path d="M686.6 1382.7L699.8 1407.6L672.8 1407.6Z" fill="#E41A1C"/>
<path d="M686.6 1304.6L699.8 1329.5L672.8 1329.5Z" fill="#377EB8"/>
<path d="M686.6 1375.8L699.8 1400.8L672.8 1400.8Z" fill="#4DAF4A"/>
<path d="M686.6 1376.4L699.8 1401.3L672.8 1401.3Z" fill="#984EA3"/>
<path d="M686.6 1518.8L699.8 1543.8L672.8 1543.8Z" fill="#FF7F00"/>
</g>
<rect x="361" y="872" width="342" height="127.8" fill="#000"/>
<rect x="369" y="880" width="325" height="111" fill="#fff"/>
<text transform="translate(530.5,961.2) scale(1,1.045)" font-size="66.67" fill="#1A1A1A" text-anchor="middle">Mg</text>
<rect x="357" y="999" width="8" height="563" fill="#000"/>
<rect x="361" y="1558" width="341" height="8" fill="#000"/>
<rect x="368" y="1562" width="8" height="21" fill="#333"/>
<text transform="translate(372,1650) scale(1,1.045)" font-size="66.67" fill="#4D4D4D" text-anchor="middle">0</text>
<rect x="464.9" y="1562" width="8" height="21" fill="#333"/>
<text transform="translate(468.9,1650) scale(1,1.045)" font-size="66.67" fill="#4D4D4D" text-anchor="middle">50</text>
<rect x="561.7" y="1562" width="8" height="21" fill="#333"/>
<text transform="translate(565.7,1650) scale(1,1.045)" font-size="66.67" fill="#4D4D4D" text-anchor="middle">100</text>
<rect x="658.5" y="1562" width="8" height="21" fill="#333"/>
<text transform="translate(662.5,1650) scale(1,1.045)" font-size="66.67" fill="#4D4D4D" text-anchor="middle">150</text>
<rect x="340" y="1535.1" width="21" height="8" fill="#333"/>
<text transform="translate(322.8,1565.6) scale(1,1.045)" font-size="66.67" fill="#4D4D4D" text-anchor="end">0</text>
<rect x="340" y="1344" width="21" height="8" fill="#333"/>
<text transform="translate(322.8,1374.5) scale(1,1.045)" font-size="66.67" fill="#4D4D4D" text-anchor="end">10000</text>
<rect x="340" y="1153" width="21" height="8" fill="#333"/>
<text transform="translate(322.8,1183.5) scale(1,1.045)" font-size="66.67" fill="#4D4D4D" text-anchor="end">20000</text>
<!-- panel Na -->
<g fill-opacity="0.7" shape-rendering="crispEdges">
<circle cx="1018.2" cy="1146.5" r="10.45" fill="#984EA3"/>
<circle cx="1018.2" cy="1482.5" r="10.45" fill="#FF7F00"/>
<circle cx="1018.2" cy="1328.2" r="10.45" fill="#E41A1C"/>
<circle cx="1018.2" cy="1096.5" r="10.45" fill="#377EB8"/>
<circle cx="1018.2" cy="1050.5" r="10.45" fill="#4DAF4A"/>
<circle cx="1024" cy="1158.7" r="10.45" fill="#984EA3"/>
<circle cx="1024" cy="1494.3" r="10.45" fill="#FF7F00"/>
<circle cx="1024" cy="1218.5" r="10.45" fill="#E41A1C"/>
<circle cx="1024" cy="1049.6" r="10.45" fill="#377EB8"/>
<circle cx="1024" cy="1039.1" r="10.45" fill="#4DAF4A"/>
<circle cx="1033.4" cy="1158.7" r="10.45" fill="#984EA3"/>
<circle cx="1033.4" cy="1492.6" r="10.45" fill="#FF7F00"/>
<circle cx="1033.4" cy="1166.4" r="10.45" fill="#E41A1C"/>
<circle cx="1033.4" cy="1025.2" r="10.45" fill="#377EB8"/>
<circle cx="1033.4" cy="1035" r="10.45" fill="#4DAF4A"/>
<circle cx="1043.5" cy="1137.5" r="10.45" fill="#984EA3"/>
<circle cx="1043.5" cy="1479.3" r="10.45" fill="#FF7F00"/>
<circle cx="1043.5" cy="1119.2" r="10.45" fill="#E41A1C"/>
<circle cx="1043.5" cy="1067.2" r="10.45" fill="#377EB8"/>
<circle cx="1043.5" cy="1028.5" r="10.45" fill="#4DAF4A"/>
<circle cx="1053.4" cy="1208.8" r="10.45" fill="#984EA3"/>
<circle cx="1053.4" cy="1411.3" r="10.45" fill="#FF7F00"/>
<circle cx="1053.4" cy="1195.3" r="10.45" fill="#E41A1C"/>
<circle cx="1053.4" cy="1175.8" r="10.45" fill="#377EB8"/>
<circle cx="1053.4" cy="1128.6" r="10.45" fill="#4DAF4A"/>
<circle cx="1062.3" cy="1201" r="10.45" fill="#984EA3"/>
<circle cx="1062.3" cy="1508.1" r="10.45" fill="#FF7F00"/>
<circle cx="1062.3" cy="1188" r="10.45" fill="#E41A1C"/>
<circle cx="1062.3" cy="1172.5" r="10.45" fill="#377EB8"/>
<circle cx="1062.3" cy="1118.4" r="10.45" fill="#4DAF4A"/>
<circle cx="1072.4" cy="1198" r="10.45" fill="#984EA3"/>
<circle cx="1072.4" cy="1520.3" r="10.45" fill="#FF7F00"/>
<circle cx="1072.4" cy="1154.6" r="10.45" fill="#E41A1C"/>
<circle cx="1072.4" cy="1185.6" r="10.45" fill="#377EB8"/>
<circle cx="1072.4" cy="1119.2" r="10.45" fill="#4DAF4A"/>
<circle cx="1082.5" cy="1210" r="10.45" fill="#984EA3"/>
<circle cx="1082.5" cy="1536.6" r="10.45" fill="#FF7F00"/>
<circle cx="1082.5" cy="1189.6" r="10.45" fill="#E41A1C"/>
<circle cx="1082.5" cy="1207.1" r="10.45" fill="#377EB8"/>
<circle cx="1082.5" cy="1153.4" r="10.45" fill="#4DAF4A"/>
<circle cx="1093.1" cy="1227" r="10.45" fill="#984EA3"/>
<circle cx="1093.1" cy="1521.9" r="10.45" fill="#FF7F00"/>
<circle cx="1093.1" cy="1215" r="10.45" fill="#E41A1C"/>
<circle cx="1093.1" cy="1219" r="10.45" fill="#377EB8"/>
<circle cx="1093.1" cy="1188.4" r="10.45" fill="#4DAF4A"/>
<circle cx="1103.7" cy="1213.2" r="10.45" fill="#984EA3"/>
<circle cx="1103.7" cy="1523.2" r="10.45" fill="#FF7F00"/>
<circle cx="1103.7" cy="1216" r="10.45" fill="#E41A1C"/>
<circle cx="1103.7" cy="1219" r="10.45" fill="#377EB8"/>
<circle cx="1103.7" cy="1206.7" r="10.45" fill="#4DAF4A"/>
<path d="M1032 1234.6L1045.2 1259.5L1018.2 1259.5Z" fill="#E41A1C"/>
<path d="M1032 1162.5L1045.2 1187.5L1018.2 1187.5Z" fill="#377EB8"/>
<path d="M1032 1124.6L1045.2 1149.5L1018.2 1149.5Z" fill="#4DAF4A"/>
<path d="M1032 1218.1L1045.2 1243L1018.2 1243Z" fill="#984EA3"/>
<path d="M1032 1494.5L1045.2 1519.5L1018.2 1519.5Z" fill="#FF7F00"/>
<path d="M1061.3 1196.3L1074.5 1221.2L1047.5 1221.2Z" fill="#E41A1C"/>
<path d="M1061.3 1176.4L1074.5 1201.3L1047.5 1201.3Z" fill="#377EB8"/>
<path d="M1061.3 1148.6L1074.5 1173.5L1047.5 1173.5Z" fill="#4DAF4A"/>
<path d="M1061.3 1213.4L1074.5 1238.3L1047.5 1238.3Z" fill="#984EA3"/>
<path d="M1061.3 1490.6L1074.5 1515.5L1047.5 1515.5Z" fill="#FF7F00"/>
<path d="M1090.6 1197.1L1103.8 1222L1076.8 1222Z" fill="#E41A1C"/>
<path d="M1090.6 1199.7L1103.8 1224.6L1076.8 1224.6Z" fill="#377EB8"/>
<path d="M1090.6 1198.5L1103.8 1223.5L1076.8 1223.5Z" fill="#4DAF4A"/>
<path d="M1090.6 1214.9L1103.8 1239.8L1076.8 1239.8Z" fill="#984EA3"/>
<path d="M1090.6 1518.6L1103.8 1543.5L1076.8 1543.5Z" fill="#FF7F00"/>
<path d="M1101.7 1204.3L1114.9 1229.2L1087.9 1229.2Z" fill="#E41A1C"/>
<path d="M1101.7 1206.1L1114.9 1231L1087.9 1231Z" fill="#377EB8"/>
<path d="M1101.7 1208.4L1114.9 1233.3L1087.9 1233.3Z" fill="#4DAF4A"/>
<path d="M1101.7 1212.7L1114.9 1237.6L1087.9 1237.6Z" fill="#984EA3"/>
<path d="M1101.7 1509.5L1114.9 1534.5L1087.9 1534.5Z" fill="#FF7F00"/>
<path d="M1130.5 1203.1L1143.7 1228L1116.7 1228Z" fill="#E41A1C"/>
<path d="M1130.5 1210.1L1143.7 1235L1116.7 1235Z" fill="#377EB8"/>
<path d="M1130.5 1208L1143.7 1233L1116.7 1233Z" fill="#4DAF4A"/>
<path d="M1130.5 1213.1L1143.7 1238L1116.7 1238Z" fill="#984EA3"/>
<path d="M1130.5 1324.8L1143.7 1349.8L1116.7 1349.8Z" fill="#FF7F00"/>
<path d="M1148.7 1191L1161.9 1216L1134.9 1216Z" fill="#E41A1C"/>
<path d="M1148.7 1201.1L1161.9 1226L1134.9 1226Z" fill="#377EB8"/>
<path d="M1148.7 1203.9L1161.9 1228.8L1134.9 1228.8Z" fill="#4DAF4A"/>
<path d="M1148.7 1208.6L1161.9 1233.5L1134.9 1233.5Z" fill="#984EA3"/>
<path d="M1148.7 1347.7L1161.9 1372.6L1134.9 1372.6Z" fill="#FF7F00"/>
<path d="M1177.7 1188.4L1190.9 1213.3L1163.9 1213.3Z" fill="#E41A1C"/>
<path d="M1177.7 1192.9L1190.9 1217.8L1163.9 1217.8Z" fill="#377EB8"/>
<path d="M1177.7 1196.8L1190.9 1221.8L1163.9 1221.8Z" fill="#4DAF4A"/>
<path d="M1177.7 1193.6L1190.9 1218.5L1163.9 1218.5Z" fill="#984EA3"/>
<path d="M1177.7 1506.7L1190.9 1531.6L1163.9 1531.6Z" fill="#FF7F00"/>
<path d="M1200.8 1189.3L1214 1214.2L1187 1214.2Z" fill="#E41A1C"/>
<path d="M1200.8 1187.4L1214 1212.3L1187 1212.3Z" fill="#377EB8"/>
<path d="M1200.8 1197.2L1214 1222.1L1187 1222.1Z" fill="#4DAF4A"/>
<path d="M1200.8 1202.1L1214 1227L1187 1227Z" fill="#984EA3"/>
<path d="M1200.8 1210.6L1214 1235.5L1187 1235.5Z" fill="#FF7F00"/>
<path d="M1229.8 1197.5L1243 1222.5L1216 1222.5Z" fill="#E41A1C"/>
<path d="M1229.8 1200.1L1243 1225L1216 1225Z" fill="#377EB8"/>
<path d="M1229.8 1200.1L1243 1225L1216 1225Z" fill="#4DAF4A"/>
<path d="M1229.8 1204.2L1243 1229.1L1216 1229.1Z" fill="#984EA3"/>
<path d="M1229.8 1069.8L1243 1094.8L1216 1094.8Z" fill="#FF7F00"/>
<path d="M1258.8 1198.6L1272 1223.5L1245 1223.5Z" fill="#E41A1C"/>
<path d="M1258.8 1200.1L1272 1225L1245 1225Z" fill="#377EB8"/>
<path d="M1258.8 1200.1L1272 1225L1245 1225Z" fill="#4DAF4A"/>
<path d="M1258.8 1200.5L1272 1225.5L1245 1225.5Z" fill="#984EA3"/>
<path d="M1287.7 1178.3L1300.9 1203.2L1273.9 1203.2Z" fill="#E41A1C"/>
<path d="M1287.7 1180.1L1300.9 1205L1273.9 1205Z" fill="#377EB8"/>
<path d="M1287.7 1179.9L1300.9 1204.8L1273.9 1204.8Z" fill="#4DAF4A"/>
<path d="M1287.7 1187.4L1300.9 1212.3L1273.9 1212.3Z" fill="#984EA3"/>
<path d="M1287.7 1029.9L1300.9 1054.8L1273.9 1054.8Z" fill="#FF7F00"/>
<path d="M1328.3 1176.6L1341.5 1201.5L1314.5 1201.5Z" fill="#E41A1C"/>
<path d="M1328.3 1176.9L1341.5 1201.8L1314.5 1201.8Z" fill="#377EB8"/>
<path d="M1328.3 1178.1L1341.5 1203L1314.5 1203Z" fill="#4DAF4A"/>
<path d="M1328.3 1179.3L1341.5 1204.2L1314.5 1204.2Z" fill="#984EA3"/>
<path d="M1328.3 1044.7L1341.5 1069.6L1314.5 1069.6Z" fill="#FF7F00"/>
</g>
<rect x="1002" y="872" width="342" height="127.8" fill="#000"/>
<rect x="1010" y="880" width="325" height="111" fill="#fff"/>
<text transform="translate(1171.5,961.2) scale(1,1.045)" font-size="66.67" fill="#1A1A1A" text-anchor="middle">Na</text>
<rect x="998" y="999" width="8" height="563" fill="#000"/>
<rect x="1002" y="1558" width="341" height="8" fill="#000"/>
<rect x="1010" y="1562" width="8" height="21" fill="#333"/>
<text transform="translate(1014,1650) scale(1,1.045)" font-size="66.67" fill="#4D4D4D" text-anchor="middle">0</text>
<rect x="1106.8" y="1562" width="8" height="21" fill="#333"/>
<text transform="translate(1110.8,1650) scale(1,1.045)" font-size="66.67" fill="#4D4D4D" text-anchor="middle">50</text>
<rect x="1203.7" y="1562" width="8" height="21" fill="#333"/>
<text transform="translate(1207.7,1650) scale(1,1.045)" font-size="66.67" fill="#4D4D4D" text-anchor="middle">100</text>
<rect x="1300.5" y="1562" width="8" height="21" fill="#333"/>
<text transform="translate(1304.5,1650) scale(1,1.045)" font-size="66.67" fill="#4D4D4D" text-anchor="middle">150</text>
<rect x="982" y="1456.9" width="20" height="8" fill="#333"/>
<text transform="translate(965,1487.4) scale(1,1.045)" font-size="66.67" fill="#4D4D4D" text-anchor="end">40000</text>
<rect x="982" y="1315.9" width="20" height="8" fill="#333"/>
<text transform="translate(965,1346.4) scale(1,1.045)" font-size="66.67" fill="#4D4D4D" text-anchor="end">80000</text>
<rect x="982" y="1175" width="20" height="8" fill="#333"/>
<text transform="translate(965,1205.5) scale(1,1.045)" font-size="66.67" fill="#4D4D4D" text-anchor="end">120000</text>
<rect x="982" y="1034" width="20" height="8" fill="#333"/>
<text transform="translate(965,1064.5) scale(1,1.045)" font-size="66.67" fill="#4D4D4D" text-anchor="end">160000</text>
<!-- panel Si -->
<g fill-opacity="0.7" shape-rendering="crispEdges">
<circle cx="1623.2" cy="1210.4" r="10.45" fill="#984EA3"/>
<circle cx="1623.2" cy="1507.3" r="10.45" fill="#FF7F00"/>
<circle cx="1623.2" cy="1231" r="10.45" fill="#E41A1C"/>
<circle cx="1623.2" cy="1216.5" r="10.45" fill="#377EB8"/>
<circle cx="1623.2" cy="1230.3" r="10.45" fill="#4DAF4A"/>
<circle cx="1629" cy="1222" r="10.45" fill="#984EA3"/>
<circle cx="1629" cy="1519.4" r="10.45" fill="#FF7F00"/>
<circle cx="1629" cy="1225.9" r="10.45" fill="#E41A1C"/>
<circle cx="1629" cy="1224" r="10.45" fill="#377EB8"/>
<circle cx="1629" cy="1216.5" r="10.45" fill="#4DAF4A"/>
<circle cx="1638.4" cy="1233" r="10.45" fill="#984EA3"/>
<circle cx="1638.4" cy="1520.2" r="10.45" fill="#FF7F00"/>
<circle cx="1638.4" cy="1228" r="10.45" fill="#E41A1C"/>
<circle cx="1638.4" cy="1232" r="10.45" fill="#377EB8"/>
<circle cx="1638.4" cy="1223.8" r="10.45" fill="#4DAF4A"/>
<circle cx="1648.5" cy="1195.3" r="10.45" fill="#984EA3"/>
<circle cx="1648.5" cy="1510.3" r="10.45" fill="#FF7F00"/>
<circle cx="1648.5" cy="1213.2" r="10.45" fill="#E41A1C"/>
<circle cx="1648.5" cy="1242.1" r="10.45" fill="#377EB8"/>
<circle cx="1648.5" cy="1208.4" r="10.45" fill="#4DAF4A"/>
<circle cx="1658.4" cy="1261.3" r="10.45" fill="#984EA3"/>
<circle cx="1658.4" cy="1437.4" r="10.45" fill="#FF7F00"/>
<circle cx="1658.4" cy="1271.8" r="10.45" fill="#E41A1C"/>
<circle cx="1658.4" cy="1290.6" r="10.45" fill="#377EB8"/>
<circle cx="1658.4" cy="1271" r="10.45" fill="#4DAF4A"/>
<circle cx="1667.3" cy="1268" r="10.45" fill="#984EA3"/>
<circle cx="1667.3" cy="1529.2" r="10.45" fill="#FF7F00"/>
<circle cx="1667.3" cy="1252.3" r="10.45" fill="#E41A1C"/>
<circle cx="1667.3" cy="1278.3" r="10.45" fill="#377EB8"/>
<circle cx="1667.3" cy="1260.4" r="10.45" fill="#4DAF4A"/>
<circle cx="1677.4" cy="1255.2" r="10.45" fill="#984EA3"/>
<circle cx="1677.4" cy="1534.4" r="10.45" fill="#FF7F00"/>
<circle cx="1677.4" cy="1265" r="10.45" fill="#E41A1C"/>
<circle cx="1677.4" cy="1280" r="10.45" fill="#377EB8"/>
<circle cx="1677.4" cy="1262.1" r="10.45" fill="#4DAF4A"/>
<circle cx="1687.5" cy="1275" r="10.45" fill="#984EA3"/>
<circle cx="1687.5" cy="1527.4" r="10.45" fill="#FF7F00"/>
<circle cx="1687.5" cy="1275.9" r="10.45" fill="#E41A1C"/>
<circle cx="1687.5" cy="1288.9" r="10.45" fill="#377EB8"/>
<circle cx="1687.5" cy="1267.8" r="10.45" fill="#4DAF4A"/>
<circle cx="1698.1" cy="1278.8" r="10.45" fill="#984EA3"/>
<circle cx="1698.1" cy="1234.4" r="10.45" fill="#FF7F00"/>
<circle cx="1698.1" cy="1311" r="10.45" fill="#E41A1C"/>
<circle cx="1698.1" cy="1295" r="10.45" fill="#377EB8"/>
<circle cx="1698.1" cy="1278.8" r="10.45" fill="#4DAF4A"/>
<circle cx="1708.7" cy="1281.6" r="10.45" fill="#984EA3"/>
<circle cx="1708.7" cy="1025.2" r="10.45" fill="#FF7F00"/>
<circle cx="1708.7" cy="1316.3" r="10.45" fill="#E41A1C"/>
<circle cx="1708.7" cy="1309.8" r="10.45" fill="#377EB8"/>
<circle cx="1708.7" cy="1290.2" r="10.45" fill="#4DAF4A"/>
<path d="M1637 1287.1L1650.2 1312L1623.2 1312Z" fill="#E41A1C"/>
<path d="M1637 1286.4L1650.2 1311.3L1623.2 1311.3Z" fill="#377EB8"/>
<path d="M1637 1289.7L1650.2 1314.6L1623.2 1314.6Z" fill="#4DAF4A"/>
<path d="M1637 1287.3L1650.2 1312.2L1623.2 1312.2Z" fill="#984EA3"/>
<path d="M1637 1518.8L1650.2 1543.8L1623.2 1543.8Z" fill="#FF7F00"/>
<path d="M1666.3 1287.1L1679.5 1312L1652.5 1312Z" fill="#E41A1C"/>
<path d="M1666.3 1280.1L1679.5 1305L1652.5 1305Z" fill="#377EB8"/>
<path d="M1666.3 1286.4L1679.5 1311.3L1652.5 1311.3Z" fill="#4DAF4A"/>
<path d="M1666.3 1279.7L1679.5 1304.6L1652.5 1304.6Z" fill="#984EA3"/>
<path d="M1666.3 1514.6L1679.5 1539.5L1652.5 1539.5Z" fill="#FF7F00"/>
<path d="M1695.6 1292.9L1708.8 1317.8L1681.8 1317.8Z" fill="#E41A1C"/>
<path d="M1695.6 1274L1708.8 1299L1681.8 1299Z" fill="#377EB8"/>
<path d="M1695.6 1285.6L1708.8 1310.5L1681.8 1310.5Z" fill="#4DAF4A"/>
<path d="M1695.6 1284.9L1708.8 1309.8L1681.8 1309.8Z" fill="#984EA3"/>
<path d="M1695.6 1471.5L1708.8 1496.5L1681.8 1496.5Z" fill="#FF7F00"/>
<path d="M1706.7 1299L1719.9 1324L1692.9 1324Z" fill="#E41A1C"/>
<path d="M1706.7 1283.1L1719.9 1308L1692.9 1308Z" fill="#377EB8"/>
<path d="M1706.7 1285.6L1719.9 1310.5L1692.9 1310.5Z" fill="#4DAF4A"/>
<path d="M1706.7 1281.6L1719.9 1306.5L1692.9 1306.5Z" fill="#984EA3"/>
<path d="M1706.7 1188.4L1719.9 1213.3L1692.9 1213.3Z" fill="#FF7F00"/>
<path d="M1735.5 1291.3L1748.7 1316.2L1721.7 1316.2Z" fill="#E41A1C"/>
<path d="M1735.5 1288.1L1748.7 1313L1721.7 1313Z" fill="#377EB8"/>
<path d="M1735.5 1285.6L1748.7 1310.5L1721.7 1310.5Z" fill="#4DAF4A"/>
<path d="M1735.5 1283.5L1748.7 1308.5L1721.7 1308.5Z" fill="#984EA3"/>
<path d="M1735.5 1255.9L1748.7 1280.8L1721.7 1280.8Z" fill="#FF7F00"/>
<path d="M1753.7 1287.2L1766.9 1312.1L1739.9 1312.1Z" fill="#E41A1C"/>
<path d="M1753.7 1287.2L1766.9 1312.1L1739.9 1312.1Z" fill="#377EB8"/>
<path d="M1753.7 1305.6L1766.9 1330.5L1739.9 1330.5Z" fill="#4DAF4A"/>
<path d="M1753.7 1301.9L1766.9 1326.8L1739.9 1326.8Z" fill="#984EA3"/>
<path d="M1753.7 1267.2L1766.9 1292.1L1739.9 1292.1Z" fill="#FF7F00"/>
<path d="M1782.7 1310.8L1795.9 1335.8L1768.9 1335.8Z" fill="#E41A1C"/>
<path d="M1782.7 1292.1L1795.9 1317L1768.9 1317Z" fill="#377EB8"/>
<path d="M1782.7 1285.4L1795.9 1310.3L1768.9 1310.3Z" fill="#4DAF4A"/>
<path d="M1782.7 1292.7L1795.9 1317.6L1768.9 1317.6Z" fill="#984EA3"/>
<path d="M1782.7 1253.9L1795.9 1278.8L1768.9 1278.8Z" fill="#FF7F00"/>
<path d="M1805.8 1286.1L1819 1311L1792 1311Z" fill="#E41A1C"/>
<path d="M1805.8 1284.6L1819 1309.5L1792 1309.5Z" fill="#377EB8"/>
<path d="M1805.8 1286.1L1819 1311L1792 1311Z" fill="#4DAF4A"/>
<path d="M1805.8 1287.2L1819 1312.1L1792 1312.1Z" fill="#984EA3"/>
<path d="M1805.8 1259.6L1819 1284.5L1792 1284.5Z" fill="#FF7F00"/>
<path d="M1834.8 1299.5L1848 1324.5L1821 1324.5Z" fill="#E41A1C"/>
<path d="M1834.8 1304.7L1848 1329.6L1821 1329.6Z" fill="#377EB8"/>
<path d="M1834.8 1293.7L1848 1318.6L1821 1318.6Z" fill="#4DAF4A"/>
<path d="M1834.8 1300.3L1848 1325.2L1821 1325.2Z" fill="#984EA3"/>
<path d="M1834.8 1280.7L1848 1305.6L1821 1305.6Z" fill="#FF7F00"/>
<path d="M1863.8 1295.1L1877 1320L1850 1320Z" fill="#E41A1C"/>
<path d="M1863.8 1292.7L1877 1317.6L1850 1317.6Z" fill="#377EB8"/>
<path d="M1863.8 1297.5L1877 1322.5L1850 1322.5Z" fill="#4DAF4A"/>
<path d="M1863.8 1293.7L1877 1318.6L1850 1318.6Z" fill="#984EA3"/>
<path d="M1892.7 1290.5L1905.9 1315.5L1878.9 1315.5Z" fill="#E41A1C"/>
<path d="M1892.7 1291.9L1905.9 1316.8L1878.9 1316.8Z" fill="#377EB8"/>
<path d="M1892.7 1290.7L1905.9 1315.6L1878.9 1315.6Z" fill="#4DAF4A"/>
<path d="M1892.7 1292.1L1905.9 1317L1878.9 1317Z" fill="#984EA3"/>
<path d="M1892.7 1293.7L1905.9 1318.6L1878.9 1318.6Z" fill="#FF7F00"/>
<path d="M1933.3 1307.6L1946.5 1332.5L1919.5 1332.5Z" fill="#E41A1C"/>
<path d="M1933.3 1299.5L1946.5 1324.5L1919.5 1324.5Z" fill="#377EB8"/>
<path d="M1933.3 1301.1L1946.5 1326L1919.5 1326Z" fill="#4DAF4A"/>
<path d="M1933.3 1301.1L1946.5 1326L1919.5 1326Z" fill="#984EA3"/>
<path d="M1933.3 1303.5L1946.5 1328.5L1919.5 1328.5Z" fill="#FF7F00"/>
</g>
<rect x="1607" y="872" width="342" height="127.8" fill="#000"/>
<rect x="1615" y="880" width="325" height="111" fill="#fff"/>
<text transform="translate(1776.5,961.2) scale(1,1.045)" font-size="66.67" fill="#1A1A1A" text-anchor="middle">Si</text>
<rect x="1603" y="999" width="8" height="563" fill="#000"/>
<rect x="1607" y="1558" width="341" height="8" fill="#000"/>
<rect x="1615" y="1562" width="8" height="21" fill="#333"/>
<text transform="translate(1619,1650) scale(1,1.045)" font-size="66.67" fill="#4D4D4D" text-anchor="middle">0</text>
<rect x="1711.8" y="1562" width="8" height="21" fill="#333"/>
<text transform="translate(1715.8,1650) scale(1,1.045)" font-size="66.67" fill="#4D4D4D" text-anchor="middle">50</text>
<rect x="1808.7" y="1562" width="8" height="21" fill="#333"/>
<text transform="translate(1812.7,1650) scale(1,1.045)" font-size="66.67" fill="#4D4D4D" text-anchor="middle">100</text>
<rect x="1905.5" y="1562" width="8" height="21" fill="#333"/>
<text transform="translate(1909.5,1650) scale(1,1.045)" font-size="66.67" fill="#4D4D4D" text-anchor="middle">150</text>
<rect x="1587" y="1456.9" width="20" height="8" fill="#333"/>
<text transform="translate(1570,1487.4) scale(1,1.045)" font-size="66.67" fill="#4D4D4D" text-anchor="end">5000</text>
<rect x="1587" y="1309.6" width="20" height="8" fill="#333"/>
<text transform="translate(1570,1340.1) scale(1,1.045)" font-size="66.67" fill="#4D4D4D" text-anchor="end">10000</text>
<rect x="1587" y="1162.3" width="20" height="8" fill="#333"/>
<text transform="translate(1570,1192.8) scale(1,1.045)" font-size="66.67" fill="#4D4D4D" text-anchor="end">15000</text>
<rect x="1587" y="1015" width="20" height="8" fill="#333"/>
<text transform="translate(1570,1045.5) scale(1,1.045)" font-size="66.67" fill="#4D4D4D" text-anchor="end">20000</text>
<text transform="translate(1154.5,1742.4) scale(1,1.025)" font-size="83.33" fill="#000" text-anchor="middle" textLength="1490.5" lengthAdjust="spacing">Cumulative Volume of Water Filtered (L)</text>
<text transform="translate(103.4,864.5) rotate(-90) scale(1,1.025)" font-size="83.33" fill="#000" text-anchor="middle">Concentration (ng/g)</text>
<text transform="translate(2070.5,482.2) scale(1,1.03)" font-size="83.33" fill="#000">Brand</text>
<circle cx="2108.5" cy="566.3" r="9.9" fill="#E41A1C" fill-opacity="0.7" stroke="#E41A1C" stroke-opacity="0.7" stroke-width="1.4"/>
<text transform="translate(2184.4,591.9) scale(1,1.045)" font-size="66.67" fill="#000">CS</text>
<circle cx="2108.5" cy="638.3" r="9.9" fill="#377EB8" fill-opacity="0.7" stroke="#377EB8" stroke-opacity="0.7" stroke-width="1.4"/>
<text transform="translate(2184.4,663.9) scale(1,1.045)" font-size="66.67" fill="#000">MV</text>
<circle cx="2108.5" cy="710.4" r="9.9" fill="#4DAF4A" fill-opacity="0.7" stroke="#4DAF4A" stroke-opacity="0.7" stroke-width="1.4"/>
<text transform="translate(2184.4,736) scale(1,1.045)" font-size="66.67" fill="#000">OS</text>
<circle cx="2108.5" cy="782.4" r="9.9" fill="#984EA3" fill-opacity="0.7" stroke="#984EA3" stroke-opacity="0.7" stroke-width="1.4"/>
<text transform="translate(2184.4,808) scale(1,1.045)" font-size="66.67" fill="#000">UF</text>
<circle cx="2108.5" cy="854.5" r="9.9" fill="#FF7F00" fill-opacity="0.7" stroke="#FF7F00" stroke-opacity="0.7" stroke-width="1.4"/>
<text transform="translate(2184.4,880.1) scale(1,1.045)" font-size="66.67" fill="#000">YS</text>
<text transform="translate(2070.6,1125.4) scale(1,1.03)" font-size="83.33" fill="#000">Round</text>
<circle cx="2108.5" cy="1210.4" r="10.45" fill="#000" fill-opacity="0.7" shape-rendering="crispEdges"/>
<path d="M2108.8 1266L2122 1291L2095 1291Z" fill="#000" fill-opacity="0.7" shape-rendering="crispEdges"/>
<text transform="translate(2184.4,1235.9) scale(1,1.045)" font-size="66.67" fill="#000">1</text>
<text transform="translate(2184.4,1307.9) scale(1,1.045)" font-size="66.67" fill="#000">2</text>
</svg></body></html>
